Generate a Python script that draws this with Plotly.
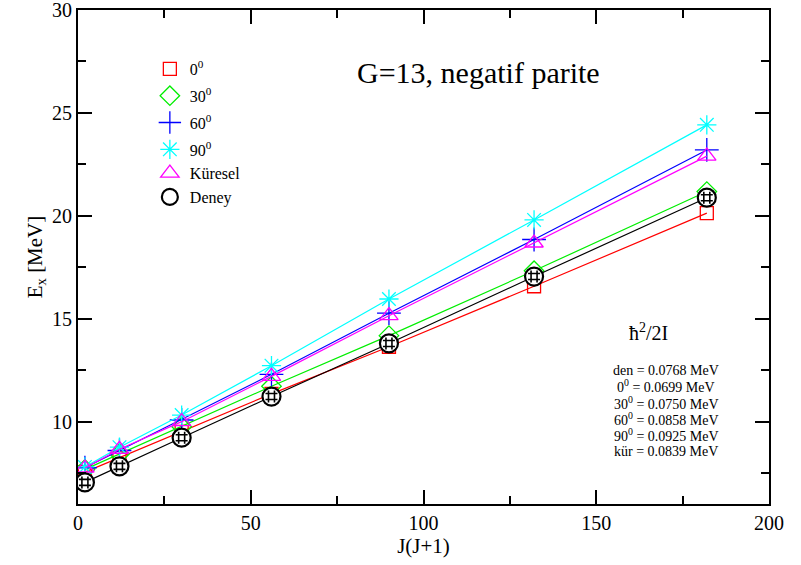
import plotly.graph_objects as go

jj = [2, 12, 30, 56, 90, 132, 182]
e_0 = [7.55, 8.25, 9.5, 11.35, 13.64, 16.58, 20.13]
e_30 = [7.68, 8.43, 9.75, 11.72, 14.18, 17.33, 21.18]
e_60 = [7.76, 8.6, 10.08, 12.3, 15.27, 18.85, 23.2]
e_90 = [7.8, 8.76, 10.32, 12.72, 15.96, 19.8, 24.42]
e_kur = [7.75, 8.66, 10.0, 12.2, 15.15, 18.68, 22.9]
e_den = [7.05, 7.83, 9.22, 11.22, 13.8, 17.05, 20.88]

series = [
    ("0<sup>0</sup>", e_0, "red", "square-open", 13, "g0"),
    ("30<sup>0</sup>", e_30, "#00ee00", "diamond-open", 15, "g30"),
    ("60<sup>0</sup>", e_60, "blue", "cross-thin-open", 17, "g60"),
    ("90<sup>0</sup>", e_90, "cyan", "asterisk-open", 16, "g90"),
    ("Küresel", e_kur, "magenta", "triangle-up-open", 16, "g90"),
]

hbar_lines = [
    "den = 0.0768 MeV",
    "0<sup>0</sup> = 0.0699 MeV",
    "30<sup>0</sup> = 0.0750 MeV",
    "60<sup>0</sup> = 0.0858 MeV",
    "90<sup>0</sup> = 0.0925 MeV",
    "kür = 0.0839 MeV",
]

FONT = "Liberation Serif, Times New Roman, serif"
fig = go.Figure()
for name, ys, col, sym, sz, grp in series:
    fig.add_trace(go.Scatter(
        x=jj, y=ys, mode="lines", showlegend=False, legendgroup=grp,
        line=dict(color=col, width=1.2), hoverinfo="skip",
    ))
    fig.add_trace(go.Scatter(
        x=jj, y=ys, name=name, mode="markers", legendgroup=grp,
        marker=dict(symbol=sym, size=sz, color=col, line=dict(color=col, width=1.3)),
    ))
fig.add_trace(go.Scatter(
    x=jj, y=e_den, mode="lines", showlegend=False, legendgroup="g90",
    line=dict(color="black", width=1.2), hoverinfo="skip",
))
fig.add_trace(go.Scatter(
    x=jj, y=e_den, name="Deney", mode="markers", legendgroup="g90",
    marker=dict(symbol="circle", size=18, color="white", line=dict(color="black", width=2.2)),
))
fig.add_trace(go.Scatter(
    x=jj, y=e_den, name="Deney", mode="markers", legendgroup="g90", showlegend=False,
    marker=dict(symbol="hash-open", size=12, color="black", line=dict(color="black", width=1.6)),
))

fig.add_annotation(x=0.579, y=0.874, xref="paper", yref="paper", text="G=13, negatif parite",
                   xanchor="center", yanchor="middle",
                   showarrow=False, font=dict(family=FONT, size=30, color="black"))
fig.add_annotation(x=0.826, y=0.348, xref="paper", yref="paper", text="ħ<sup>2</sup>/2I",
                   xanchor="center", yanchor="middle",
                   showarrow=False, font=dict(family=FONT, size=20, color="black"))
for i, t in enumerate(hbar_lines):
    fig.add_annotation(x=0.851, y=0.271 - i * 0.033, xref="paper", yref="paper", text=t,
                       xanchor="center", yanchor="middle",
                       showarrow=False, font=dict(family=FONT, size=14, color="black"))

axis_common = dict(
    showgrid=False, zeroline=False, showline=True, linecolor="black", linewidth=2,
    mirror="allticks", ticks="inside", ticklen=14, tickwidth=1.5, tickcolor="black",
    tickfont=dict(family=FONT, size=20, color="black"), automargin=False,
    ticklabeloverflow="allow",
)
fig.update_xaxes(range=[0, 200], dtick=50, tick0=0,
                 minor=dict(dtick=25, ticks="inside", ticklen=8, tickcolor="black", tickwidth=1.5),
                 title=dict(text="J(J+1)", font=dict(family=FONT, size=21, color="black"), standoff=2),
                 **axis_common)
fig.update_yaxes(range=[6, 30], dtick=5, tick0=0,
                 minor=dict(dtick=2.5, ticks="inside", ticklen=8, tickcolor="black", tickwidth=1.5),
                 title=dict(text="E<sub>x</sub> [MeV]", font=dict(family=FONT, size=21, color="black"), standoff=4),
                 **axis_common)
fig.update_layout(
    width=801, height=565,
    margin=dict(l=78, r=32, t=10, b=61),
    plot_bgcolor="white", paper_bgcolor="white",
    legend=dict(x=0.104, y=0.915, xanchor="left", yanchor="top", bgcolor="rgba(0,0,0,0)",
                font=dict(family=FONT, size=16, color="black"), tracegroupgap=3, itemwidth=30),
    font=dict(family=FONT),
)
fig.write_html("out.html")
